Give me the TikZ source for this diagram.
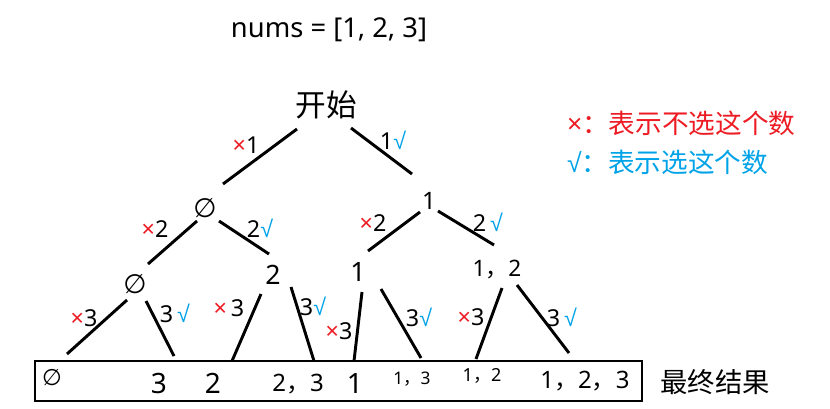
\documentclass[tikz,border=0pt]{standalone}
\usepackage{fontspec}
\setmainfont{Noto Sans}
\newfontfamily\cjk{Noto Sans CJK SC}
\newfontfamily\djv{DejaVu Sans}
\newfontfamily\lib{Liberation Sans}
\definecolor{xred}{RGB}{237,28,36}
\definecolor{vblue}{RGB}{0,162,232}
\newcommand\fs[1]{\fontsize{#1}{#1}\selectfont}
\newcommand\xm{\textcolor{xred}{×}}
\newcommand\vm{\textcolor{vblue}{{\lib √}}}
\newcommand\nul{{\djv ∅}}
\newcommand\cm{{\cjk ，}}
\begin{document}
\begin{tikzpicture}[x=0.75pt,y=-0.75pt,
  every node/.style={inner sep=0pt,outer sep=0pt},
  edge/.style={line width=2.2pt},
  lbl/.style={font=\fs{17.5}},
  boxline/.style={line width=1.6pt}]
\useasboundingbox (0,0) rectangle (830,408);

\node (title) at (329,30) {\fs{20.5}nums = [1, 2, 3]};
\node (root) at (326,105) {\fs{23}\cjk 开始};

\node (n0) at (205,208) {\fs{20}\nul};
\node (n1) at (429,201) {\fs{18}1};
\node (n00) at (135,284) {\fs{20}\nul};
\node (n01) at (273,275) {\fs{20}2};
\node (n10) at (358,272) {\fs{20}1};
\node (n11) at (497,269) {\fs{17}1\cm 2};

\node (l1) at (52,378) {\fs{17}\nul};
\node (l2) at (159,383) {\fs{21}3};
\node (l3) at (213,383) {\fs{21}2};
\node (l4) at (298,384) {\fs{18}2\cm 3};
\node (l5) at (355,383) {\fs{21}1};
\node (l6) at (412,379) {\fs{13}1\cm 3};
\node (l7) at (482,376) {\fs{13.5}1\cm 2};
\node (l8) at (585,381) {\fs{18}1\cm 2\cm 3};
\node (res) at (715,382) {\fs{20.5}\cjk 最终结果};

\draw[boxline] (35,361) rectangle (642,401);

% edge end points
\coordinate (a1) at (297,129); \coordinate (a2) at (223,184);
\coordinate (b1) at (351,128); \coordinate (b2) at (412,174);
\coordinate (c1) at (197,221); \coordinate (c2) at (148,264);
\coordinate (d1) at (219,221); \coordinate (d2) at (269,254);
\coordinate (e1) at (420,212); \coordinate (e2) at (368,251);
\coordinate (f1) at (438,211); \coordinate (f2) at (494,245);
\coordinate (g1) at (127,300); \coordinate (g2) at (67,354);
\coordinate (h1) at (146,301); \coordinate (h2) at (174,356);
\coordinate (i1) at (261,294); \coordinate (i2) at (232,361);
\coordinate (j1) at (291,287); \coordinate (j2) at (314,361);
\coordinate (k1) at (362,292); \coordinate (k2) at (354,361);
\coordinate (m1) at (381,289); \coordinate (m2) at (421,358);
\coordinate (p1) at (502,288); \coordinate (p2) at (476,359);
\coordinate (q1) at (517,285); \coordinate (q2) at (569,353);
\foreach \s in {a,b,c,d,e,f,g,h,i,j,k,m,p,q}
  \draw[edge] (\s1) -- (\s2);

% edge labels
\node[lbl] (t1) at (246,145) {\xm 1};
\node[lbl] (t2) at (393,140) {1\vm};
\node[lbl] (t3) at (155,229) {\xm 2};
\node[lbl] (t4) at (260,228) {2\vm};
\node[lbl] (t5) at (373,223) {\xm 2};
\node[lbl] (t6) at (488,222) {2\,\vm};
\node[lbl] (t7) at (84,318) {\xm 3};
\node[lbl] (t8) at (175,313) {3\,\vm};
\node[lbl] (t9) at (229,308) {\xm\,3};
\node[lbl] (t10) at (313,306) {3\vm};
\node[lbl] (t11) at (339,331) {\xm 3};
\node[lbl] (t12) at (419,317) {3\vm};
\node[lbl] (t13) at (471,317) {\xm 3};
\node[lbl] (t14) at (562,317) {3\,\vm};

% legend
\node[anchor=west] (leg1) at (567,123) {\fs{20}\color{xred}×{\cjk ：表示不选这个数}};
\node[anchor=west] (leg2) at (567,162) {\fs{20}\color{vblue}{\lib √}{\cjk ：表示选这个数}};
\end{tikzpicture}
\end{document}
